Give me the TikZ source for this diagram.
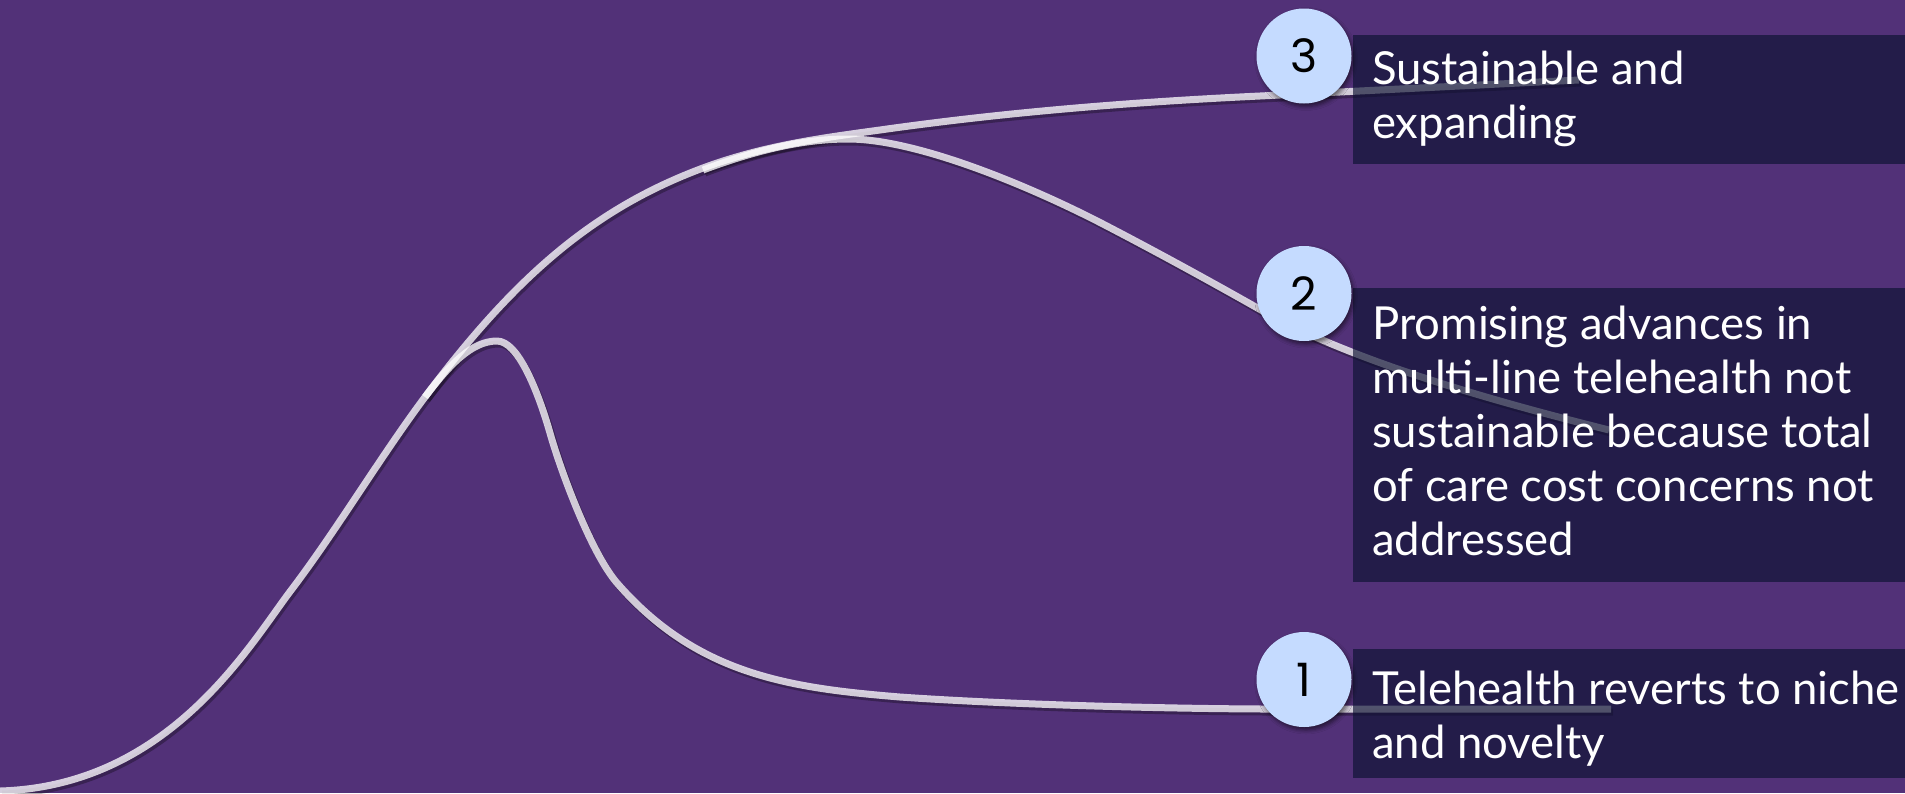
\documentclass[tikz,border=0pt]{standalone}
\usepackage{fontspec}
\setmainfont{Lato}
\newfontfamily\numfont{Poppins}
\usetikzlibrary{shadows.blur}

\definecolor{bgpurple}{RGB}{82,49,120}
\definecolor{boxink}{RGB}{11,17,49}
\definecolor{badgefill}{RGB}{197,219,255}

\tikzset{
  trackline/.style={draw=white, draw opacity=0.77, line width=7pt, line cap=butt, line join=round},
  trackshade/.style={draw=black, draw opacity=0.3, line width=7pt, line cap=butt, line join=round},
  labelbox/.style={fill=boxink, fill opacity=0.65, draw=none, inner sep=0pt, anchor=north west, minimum width=552pt},
  badge/.style={circle, fill=badgefill, draw=none, minimum size=95pt, inner sep=0pt,
    font=\numfont\fontsize{46}{46}\selectfont, text=black,
    blur shadow={shadow xshift=2pt, shadow yshift=-3pt, shadow blur radius=4pt, shadow opacity=55}},
  labeltext/.style={anchor=base west, align=left, inner sep=0pt, text=white,
    font=\fontsize{45.5}{54}\selectfont}
}

% the three growth paths
\newcommand\trunkpath{(0,791) .. controls (170,786) and (250,644) .. (292,589)
  .. controls (336,531) and (381,456) .. (425,397)
  .. controls (515,277) and (593,209) .. (703,168)
  .. controls (762,146) and (821,138) .. (880,130)
  .. controls (1007,112) and (1133,102) .. (1260,96)
  -- (1579,80)}
\newcommand\middlepath{(703,170) .. controls (751,152) and (800,139) .. (848,139)
  .. controls (918,139) and (1031,187) .. (1101,223)
  .. controls (1155,251) and (1208,280) .. (1261,310)
  .. controls (1351,361) and (1493,401) .. (1609,430)}
\newcommand\lowerpath{(425,397) .. controls (450,364) and (472,341) .. (497,341)
  .. controls (518,341) and (538,391) .. (550,433)
  .. controls (562,475) and (592,554) .. (617,583)
  .. controls (697,675) and (790,688) .. (900,697)
  .. controls (1000,704) and (1150,708.5) .. (1263,709)
  -- (1611,709)}

\begin{document}
\begin{tikzpicture}[x=1pt, y=-1pt]
  \fill[bgpurple] (0,0) rectangle (1905,793);
  \useasboundingbox (0,0) rectangle (1905,793);

  % soft shadows under the lines
  \begin{scope}[xshift=2pt, yshift=-3pt]
    \draw[trackshade] \trunkpath;
    \draw[trackshade] \middlepath;
    \draw[trackshade] \lowerpath;
  \end{scope}

  % the lines themselves
  \draw[trackline] \trunkpath;
  \draw[trackline] \middlepath;
  \draw[trackline] \lowerpath;

  % label panels
  \node[labelbox, minimum height=129pt] (b3) at (1353,35) {};
  \node[labelbox, minimum height=294pt] (b2) at (1353,288) {};
  \node[labelbox, minimum height=129pt] (b1) at (1353,649) {};

  % numbered badges
  \node[badge] (c3) at (1304,56) {3};
  \node[badge] (c2) at (1304,293.5) {2};
  \node[badge] (c1) at (1304,679.5) {1};

  % label texts (anchored on the baseline of their last line)
  \node[labeltext] (t3) at (1372,138) {Sustainable and\\expanding};
  \node[labeltext] (t2) at (1372,555) {Promising advances in\\multi-line telehealth not\\sustainable because total\\of care cost concerns not\\addressed};
  \node[labeltext] (t1) at (1372,758) {Telehealth reverts to niche\\and novelty};
\end{tikzpicture}
\end{document}
